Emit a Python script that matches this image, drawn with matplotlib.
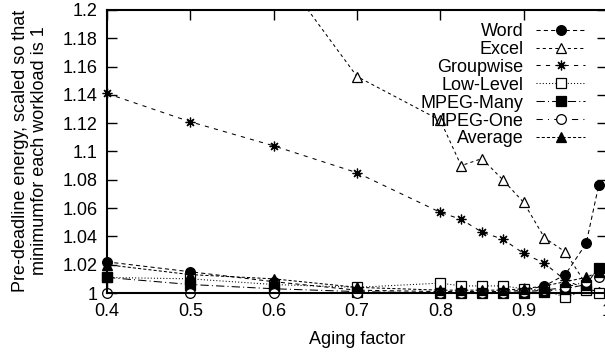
import matplotlib
matplotlib.use('Agg')
import matplotlib.pyplot as plt
from matplotlib.patches import Rectangle

plt.rcParams['font.family'] = ['Liberation Sans', 'DejaVu Sans']

# aging factor values
aging = [0.4, 0.5, 0.6, 0.7, 0.8, 0.825, 0.85, 0.875, 0.9, 0.925, 0.95, 0.975, 0.99]

word = [1.022, 1.015, 1.008, 1.002, 1.001, 1.001, 1.001, 1.001, 1.002, 1.005, 1.013, 1.035, 1.076]
excel = [1.41, 1.32, 1.233, 1.153, 1.122, 1.090, 1.095, 1.080, 1.064, 1.039, 1.029, 1.006, 1.001]
groupwise = [1.141, 1.121, 1.104, 1.085, 1.057, 1.052, 1.043, 1.038, 1.028, 1.021, 1.009, 1.003, 1.001]
low_level = [1.011, 1.010, 1.006, 1.004, 1.007, 1.005, 1.005, 1.005, 1.003, 1.002, 0.997, 1.002, 1.000]
mpeg_many = [1.011, 1.006, 1.003, 1.001, 1.000, 1.000, 1.000, 1.000, 1.000, 1.001, 1.003, 1.006, 1.018]
mpeg_one = [1.000, 1.000, 1.000, 1.000, 1.000, 1.000, 1.000, 1.000, 1.001, 1.002, 1.004, 1.008, 1.011]
average = [1.020, 1.013, 1.010, 1.004, 1.002, 1.002, 1.002, 1.002, 1.003, 1.005, 1.008, 1.011, 1.015]

xticks = [0.4, 0.5, 0.6, 0.7, 0.8, 0.9, 1.0]
xtick_labels = ['0.4', '0.5', '0.6', '0.7', '0.8', '0.9', '1']
yticks = [1.0, 1.02, 1.04, 1.06, 1.08, 1.1, 1.12, 1.14, 1.16, 1.18, 1.2]
ytick_labels = ['1', '1.02', '1.04', '1.06', '1.08', '1.1', '1.12', '1.14', '1.16', '1.18', '1.2']

fs = 13
fig = plt.figure(figsize=(6.05, 3.52), dpi=100)
ax = fig.add_axes([107 / 605, 1 - 293 / 352, 500 / 605, 283 / 352])

series = [
    ('Word', word, dict(marker='o', mfc='black', dashes=(4, 3))),
    ('Excel', excel, dict(marker='^', mfc='white', dashes=(3, 3))),
    ('Groupwise', groupwise, dict(marker=(8, 2, 0), mfc='black', dashes=(4, 5))),
    ('Low-Level', low_level, dict(marker='s', mfc='white', dashes=(1, 2))),
    ('MPEG-Many', mpeg_many, dict(marker='s', mfc='black', dashes=(8, 3, 1, 3))),
    ('MPEG-One', mpeg_one, dict(marker='o', mfc='white', dashes=(6, 5, 1, 5))),
    ('Average', average, dict(marker='^', mfc='black', dashes=(3, 2))),
]

for name, vals, st in series:
    ln, = ax.plot(aging, vals, color='black', lw=0.75, ms=7, mec='black',
                  mew=0.9, label=name, **st)
    # let markers at the bottom edge show fully, keep the top clipped
    ln.set_clip_path(Rectangle((-0.1, -0.1), 1.1, 1.1, transform=ax.transAxes))

ax.set_xlim(0.4, 1.0)
ax.set_ylim(1.0, 1.2)
ax.set_xticks(xticks)
ax.set_xticklabels(xtick_labels)
ax.set_yticks(yticks)
ax.set_yticklabels(ytick_labels)
ax.tick_params(direction='in', top=True, right=True, length=7, width=1,
               labelsize=fs, pad=7)
for s in ax.spines.values():
    s.set_linewidth(1.5)

ax.set_xlabel('Aging factor', fontsize=fs, labelpad=8)
fig.text(30 / 605, 1 - 151 / 352,
         'Pre-deadline energy, scaled so that\nminimumfor each workload is 1',
         rotation=90, ha='center', va='center', fontsize=fs, linespacing=1.1)

ax.legend(loc='upper right', bbox_to_anchor=(585 / 605, 1 - 23 / 352),
          bbox_transform=fig.transFigure, frameon=False, markerfirst=False,
          fontsize=fs, handlelength=2.7, handletextpad=0.7, labelspacing=0.05,
          borderpad=0, borderaxespad=0)

fig.savefig('out.png', dpi=100)
